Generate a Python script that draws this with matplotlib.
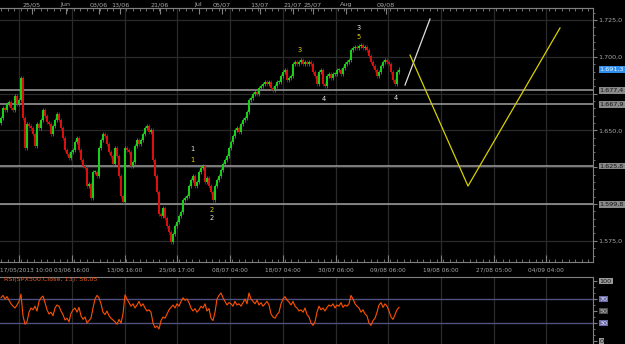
import numpy as np
import matplotlib.pyplot as plt
from matplotlib.ticker import MultipleLocator, FixedLocator
from matplotlib.transforms import ScaledTranslation, blended_transform_factory

plt.rcParams['font.family'] = ['Liberation Sans Narrow', 'DejaVu Sans']

# hourly closes, SPX500 (one value per bar)
closes = [
    1658.4, 1665.2, 1663.9, 1667.9, 1669.3, 1665.2, 1663.9, 1673.4, 1667.9, 1670.7,
    1685.6, 1658.4, 1638.1, 1654.4, 1653.0, 1651.6, 1647.6, 1639.4, 1654.4, 1651.6,
    1657.1, 1663.9, 1659.8, 1655.7, 1654.4, 1647.6, 1653.0, 1657.1, 1661.2, 1657.1,
    1651.6, 1644.8, 1636.7, 1634.0, 1631.3, 1635.3, 1636.7, 1642.1, 1644.8, 1636.7,
    1629.9, 1625.8, 1624.5, 1612.2, 1613.6, 1604.1, 1621.7, 1621.7, 1619.0, 1638.1,
    1643.5, 1647.6, 1646.2, 1640.8, 1635.3, 1632.6, 1627.2, 1638.1, 1632.6, 1619.0,
    1605.4, 1601.4, 1638.1, 1636.7, 1635.3, 1625.8, 1628.5, 1639.4, 1643.5, 1640.8,
    1643.5, 1647.6, 1651.6, 1653.0, 1648.9, 1650.3, 1629.9, 1619.0, 1608.2, 1593.2,
    1591.9, 1597.3, 1590.5, 1585.1, 1581.0, 1574.2, 1579.6, 1585.1, 1587.8, 1591.9,
    1594.6, 1602.7, 1604.1, 1605.4, 1612.2, 1616.3, 1619.0, 1612.2, 1615.0, 1621.7,
    1624.5, 1625.8, 1615.0, 1617.7, 1612.2, 1608.2, 1602.7, 1612.2, 1616.3, 1619.0,
    1623.1, 1627.2, 1629.9, 1632.6, 1638.1, 1642.1, 1646.2, 1650.3, 1651.6, 1648.9,
    1654.4, 1657.1, 1658.4, 1662.5, 1670.7, 1672.0, 1674.7, 1676.1, 1674.7, 1678.8,
    1680.2, 1681.5, 1682.9, 1681.5, 1682.9, 1678.8, 1677.5, 1680.2, 1682.9, 1682.9,
    1687.0, 1689.7, 1691.0, 1684.2, 1685.6, 1687.0, 1695.1, 1696.5, 1695.1, 1696.5,
    1697.8, 1695.1, 1696.5, 1695.1, 1696.5, 1695.1, 1689.7, 1687.0, 1681.5, 1689.7,
    1691.0, 1681.5, 1680.2, 1687.0, 1688.3, 1685.6, 1688.3, 1688.3, 1691.0, 1691.0,
    1688.3, 1692.4, 1695.1, 1696.5, 1697.8, 1704.6, 1706.0, 1706.7, 1706.0, 1707.3,
    1708.0, 1706.0, 1706.7, 1704.6, 1700.5, 1696.5, 1693.8, 1691.0, 1687.0, 1689.7,
    1693.8, 1696.5, 1697.8, 1696.5, 1695.1, 1689.7, 1684.2, 1681.5, 1689.7, 1691.3,
]
first_open = 1655.0

rsi = [
    72, 76, 70, 74, 68, 62, 58, 55, 60, 66,
    78, 42, 28, 32, 48, 55, 52, 58, 50, 66,
    72, 75, 64, 52, 45, 48, 42, 55, 60, 58,
    50, 44, 35, 38, 32, 46, 52, 55, 48, 56,
    42, 36, 40, 30, 34, 38, 55, 70, 76, 72,
    62, 48, 44, 50, 42, 38, 35, 32, 28, 36,
    30, 45, 77, 70, 64, 58, 62, 55, 60, 66,
    58, 62, 55, 50, 52, 48, 30, 22, 25, 20,
    34, 40, 38, 45, 52, 56, 60, 55, 62, 58,
    66, 72, 68, 70, 64, 55, 50, 54, 48, 52,
    58, 55, 62, 50, 54, 38, 34, 48, 70, 76,
    80, 72, 66, 60, 64, 62, 58, 66, 60, 62,
    58, 64, 70, 62, 80, 70, 66, 62, 68, 60,
    64, 58, 62, 66, 60, 45, 40, 38, 44, 48,
    62, 70, 74, 68, 65, 60, 66, 58, 55, 50,
    52, 48, 55, 44, 40, 30, 26, 32, 48, 58,
    52, 55, 50, 56, 60, 58, 62, 55, 60, 58,
    64, 56, 60, 58, 62, 76, 70, 62, 58, 55,
    48, 52, 45, 42, 30, 26, 34, 38, 48, 60,
    64, 56, 62, 58, 50, 40, 36, 44, 52, 56.05,
]

levels = [1677.4, 1667.9, 1625.8, 1599.8]
level_labels = ['1.677,4', '1.667,9', '1.625,8', '1.599,8']
last_price = 1691.3
last_label = '1.691,3'

price_ticks = [1575, 1600, 1625, 1650, 1675, 1700, 1725]
price_tick_labels = ['1.575,0', '', '', '1.650,0', '', '1.700,0', '1.725,0']

grid_x = [9, 35.5, 61.75, 88, 114.5, 141, 167.5, 193.5, 220, 246.5, 272.5]
bottom_labels = ['17/05/2013 10:00', '03/06 16:00', '13/06 16:00', '25/06 17:00',
                 '08/07 04:00', '18/07 04:00', '30/07 06:00', '09/08 06:00',
                 '19/08 06:00', '27/08 05:00', '04/09 04:00']
top_x = [15.5, 32.25, 49, 59.5, 79.5, 98.75, 110.5, 129.25, 145.75, 156, 172.5, 192.5]
top_labels = ['25/05', 'Jun', '03/06', '13/06', '21/06', 'Jul', '05/07', '13/07',
              '21/07', '25/07', 'Aug', '09/08']

# projected wave paths
white_x = [202, 214.5]
white_y = [1680.8, 1725.7]
yellow_x = [204.5, 233.5, 279.5]
yellow_y = [1701.2, 1612.2, 1719.6]

wave_text = ['1', '1', '2', '2', '3', '3', '5', '4', '4']
wave_x = [95.5, 95.5, 105.5, 105.5, 149.5, 179, 179, 161.5, 197.5]
wave_y = [1637.4, 1629.9, 1595.9, 1590.5, 1704.6, 1719.6, 1713.5, 1671.3, 1672.0]
wave_col = ['#e8e8e8', '#e8d000', '#e8d000', '#e8e8e8', '#e8d000', '#e8e8e8',
            '#e8d000', '#e8e8e8', '#e8e8e8']

rsi_ticks = [100, 70, 50, 30, 0]

bg = 'black'
grid_c = '#2a2a2a'
axis_c = '#808080'
txt_c = '#a8a8a8'
fs = 4.6

fig = plt.figure(figsize=(6.25, 3.44), dpi=100, facecolor=bg)
ax = fig.add_axes([0, 0.2384, 0.9488, 0.7383], facecolor=bg)
ax2 = fig.add_axes([0, 0, 0.9488, 0.1948], facecolor=bg)

xlim = (-0.5, 296)

# candles
c = np.array(closes)
o = np.array([first_open] + closes[:-1])
x = np.arange(len(c))
up = c >= o
cols = np.where(up, '#18d018', '#d81010')
wick = 1.6
ax.vlines(x, np.minimum(o, c) - wick, np.maximum(o, c) + wick, colors=cols, lw=0.5, zorder=3)
ax.bar(x, np.maximum(np.abs(c - o), 0.5), bottom=np.minimum(o, c), width=0.6,
       color=cols, linewidth=0, zorder=3)

for lv in levels:
    ax.axhline(lv, color='#a0a0a0', lw=1.1, zorder=2)

ax.plot(white_x, white_y, color='#e0e0e0', lw=0.9, zorder=4)
ax.plot(yellow_x, yellow_y, color='#d8d000', lw=0.9, zorder=4)

for t, xx, yy, cc in zip(wave_text, wave_x, wave_y, wave_col):
    ax.text(xx, yy, t, color=cc, fontsize=4.8, ha='center', va='center', zorder=5)

ax.set_xlim(*xlim)
ax.set_ylim(1560.6, 1733.15)

# axes styling
for a in (ax, ax2):
    for s in a.spines.values():
        s.set_color(axis_c)
        s.set_linewidth(0.8)
    a.spines['left'].set_visible(False)

ax.xaxis.set_major_locator(FixedLocator(grid_x))
ax.set_xticklabels(bottom_labels)
ax.xaxis.set_minor_locator(MultipleLocator(3.3))
ax.tick_params(axis='x', which='major', direction='in', length=5, color=axis_c,
               labelsize=4.2, labelcolor=txt_c, pad=4)
ax.tick_params(axis='x', which='minor', direction='in', length=2.5, color=axis_c)
first = ax.get_xticklabels()[0]
first.set_horizontalalignment('left')
first.set_transform(first.get_transform() + ScaledTranslation(-0.19, 0, fig.dpi_scale_trans))

ax.yaxis.tick_right()
ax.set_yticks(price_ticks)
ax.set_yticklabels(price_tick_labels)
ax.yaxis.set_minor_locator(MultipleLocator(5))
ax.tick_params(axis='y', which='major', direction='out', length=3, color=axis_c,
               labelsize=fs, labelcolor=txt_c, pad=1)
ax.tick_params(axis='y', which='minor', direction='out', length=1.5, color=axis_c)
ax.grid(True, which='major', color=grid_c, lw=0.9, zorder=0)

top = ax.secondary_xaxis('top')
top.set_xticks(top_x)
top.set_xticklabels(top_labels)
top.xaxis.set_minor_locator(MultipleLocator(3.3))
top.tick_params(which='major', direction='in', length=4, color=axis_c,
                labelsize=fs, labelcolor=txt_c, pad=0.5)
top.tick_params(which='minor', direction='in', length=2.5, color=axis_c)
top.spines['top'].set_color(axis_c)

# boxed price labels at the right
tr = blended_transform_factory(ax.transAxes, ax.transData)
for lv, lab in zip(levels, level_labels):
    ax.text(1.011, lv, lab, transform=tr, fontsize=fs, color='#141414', va='center',
            ha='left', clip_on=False,
            bbox=dict(boxstyle='square,pad=0.15', fc='#8a8a8a', ec='none'))
ax.text(1.011, last_price, last_label, transform=tr, fontsize=fs, color='#eaf4ff',
        va='center', ha='left', clip_on=False,
        bbox=dict(boxstyle='square,pad=0.15', fc='#2f8ff0', ec='none'))

# RSI panel
ax2.plot(np.arange(len(rsi)), rsi, color='#ff5000', lw=0.8, zorder=3)
ax2.axhline(70, color='#50507e', lw=1.0, zorder=2)
ax2.axhline(30, color='#50507e', lw=1.0, zorder=2)
ax2.set_xlim(*xlim)
ax2.set_ylim(-5, 106.7)
ax2.spines['bottom'].set_visible(False)
ax2.xaxis.set_major_locator(FixedLocator(grid_x))
ax2.tick_params(axis='x', which='both', length=0, labelbottom=False)
ax2.grid(True, axis='x', color=grid_c, lw=0.9, zorder=0)
ax2.yaxis.tick_right()
ax2.set_yticks([0, 30, 50, 70, 100])
ax2.set_yticklabels([])
ax2.yaxis.set_minor_locator(MultipleLocator(10))
ax2.tick_params(axis='y', which='major', direction='out', length=3, color=axis_c)
ax2.tick_params(axis='y', which='minor', direction='out', length=1.5, color=axis_c)
tr2 = blended_transform_factory(ax2.transAxes, ax2.transData)
rsi_box = {100: ('#9a9a9a', '#141414'), 70: ('#6a6aa8', '#e0e0f0'),
           50: ('#505050', '#c0c0c0'), 30: ('#6a6aa8', '#e0e0f0'),
           0: ('#9a9a9a', '#141414')}
for v in rsi_ticks:
    fc, tc = rsi_box[v]
    ax2.text(1.011, v, str(v), transform=tr2, fontsize=fs, color=tc, va='center',
             ha='left', clip_on=False,
             bbox=dict(boxstyle='square,pad=0.15', fc=fc, ec='none'))
ax2.text(0.007, 1.0, 'RSI(SPX500.Close, 13): 56,05', transform=ax2.transAxes,
         fontsize=fs, color='#ee5a20', va='top', ha='left')

fig.savefig('out.png', dpi=100, facecolor=bg)
